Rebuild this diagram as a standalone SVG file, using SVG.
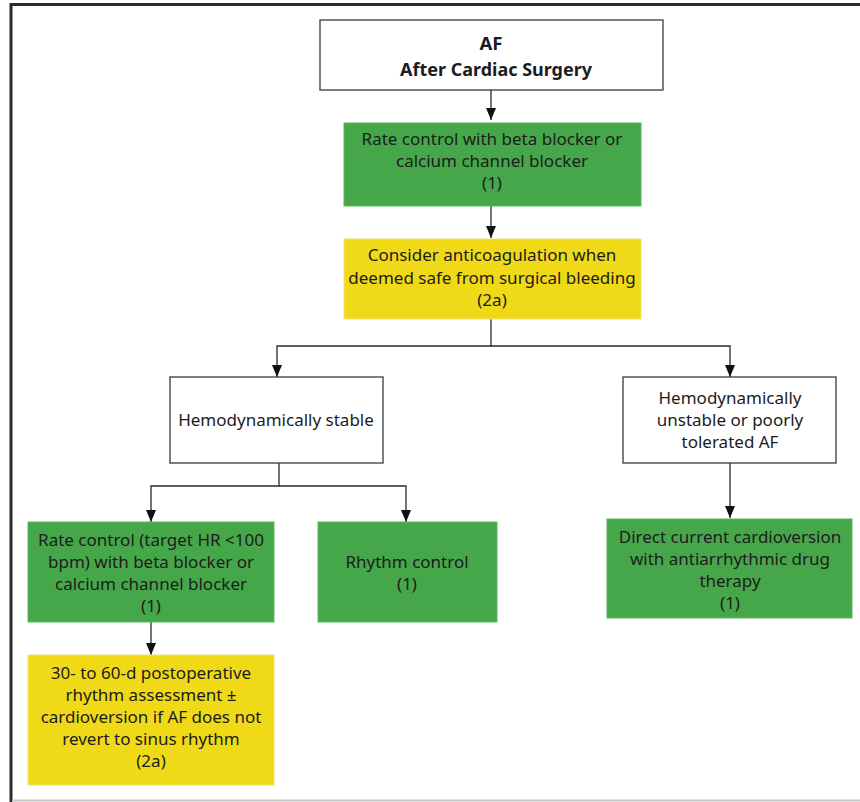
<svg xmlns="http://www.w3.org/2000/svg" width="860" height="802" viewBox="0 0 860 802">
<style>
  .t { font-family: "Noto Sans", "Open Sans", "Liberation Sans", sans-serif; font-size: 17px; fill: #1c1c1c; text-anchor: middle; }
  .b { font-family: "Noto Sans", "Liberation Sans", sans-serif; font-weight: bold; font-size: 18.5px; }
  .white { fill: #ffffff; stroke: #3a3a3a; stroke-width: 1.3; }
  .green { fill: #46a74a; stroke: #5cb45f; stroke-width: 1; }
  .yellow { fill: #f0d916; stroke: #f3e070; stroke-width: 1; }
  .c { fill: none; stroke: #2a2a2a; stroke-width: 1.3; }
</style>
<defs>
  <marker id="ah" viewBox="0 0 12 10" refX="12" refY="5" markerWidth="12" markerHeight="10" markerUnits="userSpaceOnUse" orient="auto">
    <path d="M0,0 L12,5 L0,10 z" fill="#111"/>
  </marker>
</defs>
<rect width="860" height="802" fill="#ffffff"/>
<g id="frame">
  <line x1="10.5" y1="4.5" x2="860" y2="4.5" stroke="#2b2b2b" stroke-width="3"/>
  <line x1="11" y1="3" x2="11" y2="802" stroke="#2b2b2b" stroke-width="3"/>
  <line x1="12" y1="800.5" x2="860" y2="800.5" stroke="#c8c8c8" stroke-width="2"/>
</g>
<g id="connectors">
  <line class="c" x1="491" y1="90" x2="491" y2="120" marker-end="url(#ah)"/>
  <line class="c" x1="491" y1="206" x2="491" y2="238" marker-end="url(#ah)"/>
  <polyline class="c" points="491,319 491,346 277,346 277,377" marker-end="url(#ah)"/>
  <polyline class="c" points="491,346 730,346 730,377" marker-end="url(#ah)"/>
  <polyline class="c" points="279,463 279,486 151,486 151,522" marker-end="url(#ah)"/>
  <polyline class="c" points="279,486 406,486 406,522" marker-end="url(#ah)"/>
  <line class="c" x1="730" y1="463" x2="730" y2="518" marker-end="url(#ah)"/>
  <line class="c" x1="151" y1="622" x2="151" y2="655" marker-end="url(#ah)"/>
</g>
<g id="n-af">
  <rect class="white" x="320" y="20" width="343" height="70"/>
  <text class="t b" x="491" y="50">AF</text>
  <text class="t b" x="496" y="76" textLength="192" lengthAdjust="spacingAndGlyphs">After Cardiac Surgery</text>
</g>
<g id="n-rate1">
  <rect class="green" x="344" y="123" width="297" height="83"/>
  <text class="t" x="492" y="145">Rate control with beta blocker or</text>
  <text class="t" x="492" y="167">calcium channel blocker</text>
  <text class="t" x="492" y="189">(1)</text>
</g>
<g id="n-anticoag">
  <rect class="yellow" x="344" y="239" width="297" height="80"/>
  <text class="t" x="492" y="261">Consider anticoagulation when</text>
  <text class="t" x="492" y="284">deemed safe from surgical bleeding</text>
  <text class="t" x="492" y="306">(2a)</text>
</g>
<g id="n-stable">
  <rect class="white" x="170" y="377" width="213" height="86"/>
  <text class="t" x="276" y="426">Hemodynamically stable</text>
</g>
<g id="n-unstable">
  <rect class="white" x="623" y="377" width="213" height="86"/>
  <text class="t" x="730" y="404">Hemodynamically</text>
  <text class="t" x="730" y="426">unstable or poorly</text>
  <text class="t" x="730" y="448">tolerated AF</text>
</g>
<g id="n-ratecontrol">
  <rect class="green" x="28" y="522" width="246" height="100"/>
  <text class="t" x="151" y="546">Rate control (target HR &lt;100</text>
  <text class="t" x="151" y="568">bpm) with beta blocker or</text>
  <text class="t" x="151" y="590">calcium channel blocker</text>
  <text class="t" x="151" y="612">(1)</text>
</g>
<g id="n-rhythm">
  <rect class="green" x="318" y="522" width="179" height="100"/>
  <text class="t" x="407" y="568">Rhythm control</text>
  <text class="t" x="407" y="590">(1)</text>
</g>
<g id="n-dccv">
  <rect class="green" x="607" y="519" width="245" height="99"/>
  <text class="t" x="730" y="543">Direct current cardioversion</text>
  <text class="t" x="730" y="565">with antiarrhythmic drug</text>
  <text class="t" x="730" y="587">therapy</text>
  <text class="t" x="730" y="609">(1)</text>
</g>
<g id="n-assess">
  <rect class="yellow" x="28" y="655" width="246" height="130"/>
  <text class="t" x="151" y="679">30- to 60-d postoperative</text>
  <text class="t" x="151" y="701">rhythm assessment ±</text>
  <text class="t" x="151" y="723">cardioversion if AF does not</text>
  <text class="t" x="151" y="745">revert to sinus rhythm</text>
  <text class="t" x="151" y="767">(2a)</text>
</g>
</svg>
